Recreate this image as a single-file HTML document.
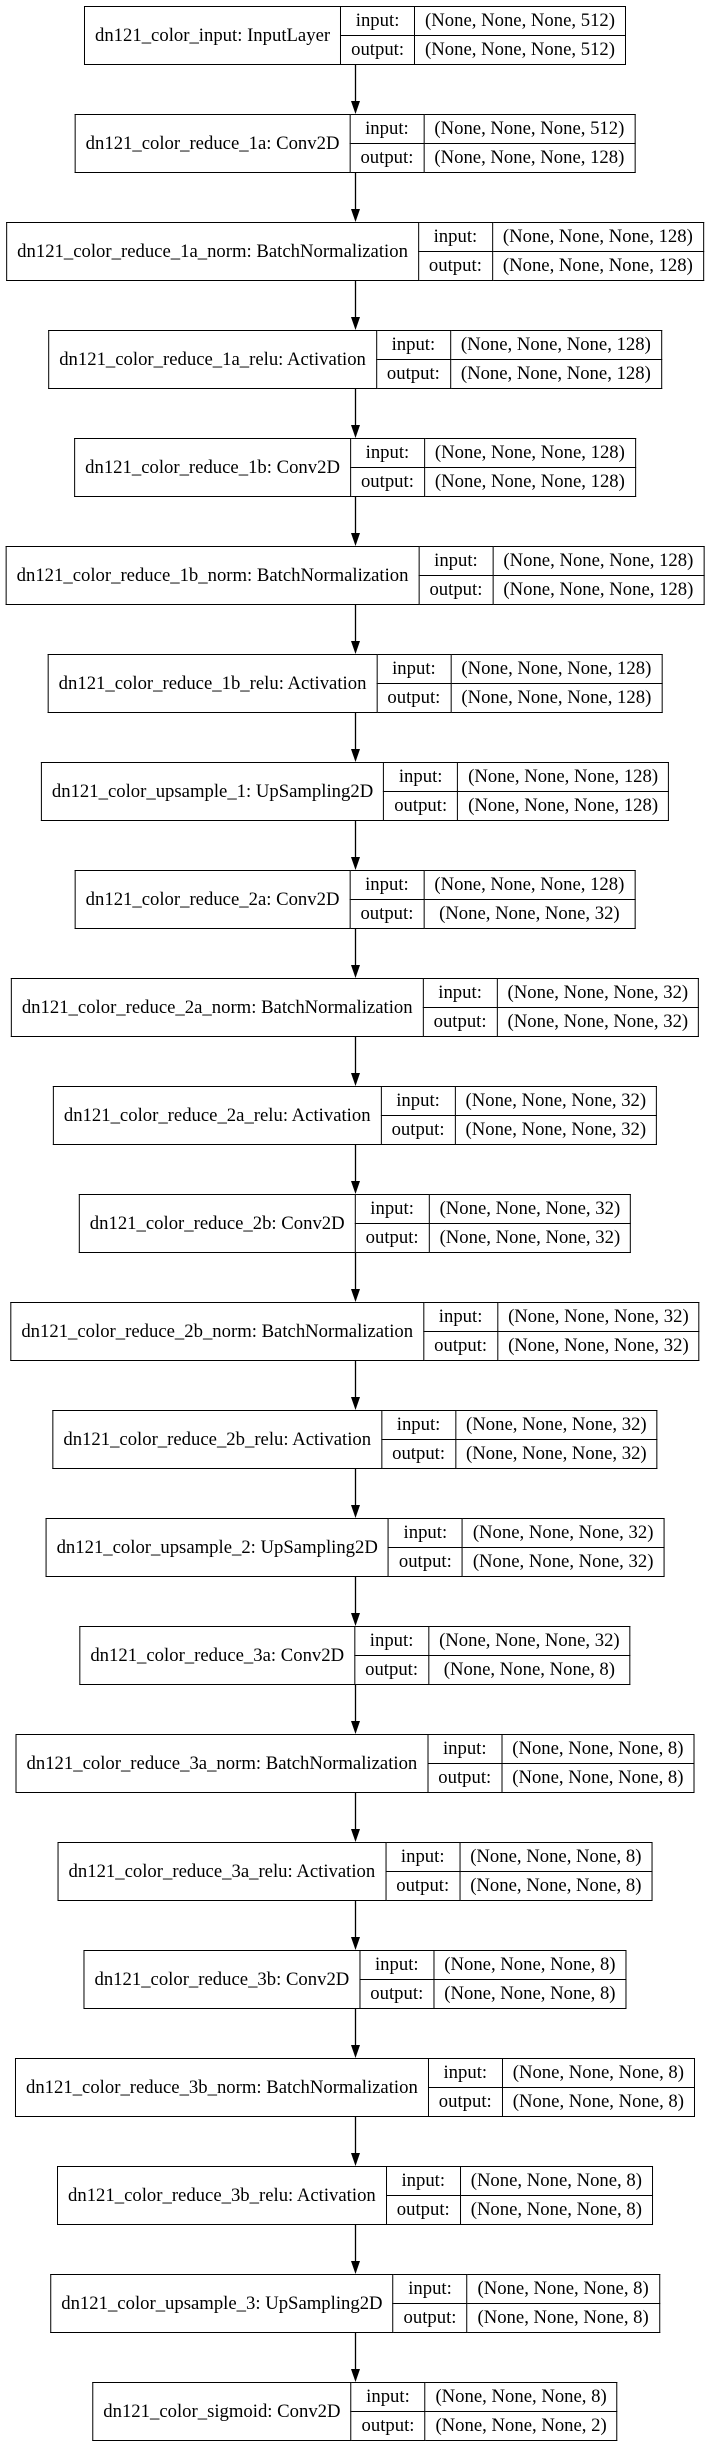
<!DOCTYPE html>
<html><head><meta charset="utf-8"><style>
html,body{margin:0;padding:0;background:#fff;}
body{width:709px;height:2447px;position:relative;overflow:hidden;font-family:"Liberation Serif","DejaVu Serif",serif;font-size:18.7px;color:#000;}
table{position:absolute;left:355px;transform:translateX(-50%);border-collapse:collapse;border:1.3px solid #000;height:59px;white-space:nowrap;}
td{border:1.3px solid #000;padding:0 10px;height:28px;line-height:20px;text-align:center;}
td.l{padding:0 10px;}
svg{position:absolute;left:0;top:0;}
</style></head><body>
<svg width="709" height="2447" id="s"></svg>
<div id="c"></div>
<script>
var n=[
["dn121_color_input: InputLayer","(None, None, None, 512)","(None, None, None, 512)"],
["dn121_color_reduce_1a: Conv2D","(None, None, None, 512)","(None, None, None, 128)"],
["dn121_color_reduce_1a_norm: BatchNormalization","(None, None, None, 128)","(None, None, None, 128)"],
["dn121_color_reduce_1a_relu: Activation","(None, None, None, 128)","(None, None, None, 128)"],
["dn121_color_reduce_1b: Conv2D","(None, None, None, 128)","(None, None, None, 128)"],
["dn121_color_reduce_1b_norm: BatchNormalization","(None, None, None, 128)","(None, None, None, 128)"],
["dn121_color_reduce_1b_relu: Activation","(None, None, None, 128)","(None, None, None, 128)"],
["dn121_color_upsample_1: UpSampling2D","(None, None, None, 128)","(None, None, None, 128)"],
["dn121_color_reduce_2a: Conv2D","(None, None, None, 128)","(None, None, None, 32)"],
["dn121_color_reduce_2a_norm: BatchNormalization","(None, None, None, 32)","(None, None, None, 32)"],
["dn121_color_reduce_2a_relu: Activation","(None, None, None, 32)","(None, None, None, 32)"],
["dn121_color_reduce_2b: Conv2D","(None, None, None, 32)","(None, None, None, 32)"],
["dn121_color_reduce_2b_norm: BatchNormalization","(None, None, None, 32)","(None, None, None, 32)"],
["dn121_color_reduce_2b_relu: Activation","(None, None, None, 32)","(None, None, None, 32)"],
["dn121_color_upsample_2: UpSampling2D","(None, None, None, 32)","(None, None, None, 32)"],
["dn121_color_reduce_3a: Conv2D","(None, None, None, 32)","(None, None, None, 8)"],
["dn121_color_reduce_3a_norm: BatchNormalization","(None, None, None, 8)","(None, None, None, 8)"],
["dn121_color_reduce_3a_relu: Activation","(None, None, None, 8)","(None, None, None, 8)"],
["dn121_color_reduce_3b: Conv2D","(None, None, None, 8)","(None, None, None, 8)"],
["dn121_color_reduce_3b_norm: BatchNormalization","(None, None, None, 8)","(None, None, None, 8)"],
["dn121_color_reduce_3b_relu: Activation","(None, None, None, 8)","(None, None, None, 8)"],
["dn121_color_upsample_3: UpSampling2D","(None, None, None, 8)","(None, None, None, 8)"],
["dn121_color_sigmoid: Conv2D","(None, None, None, 8)","(None, None, None, 2)"]];
var h="",s="";
for(var i=0;i<n.length;i++){var t=6+108*i;
h+='<table style="top:'+t+'px"><tr><td class="l" rowspan="2">'+n[i][0]+'</td><td>input:</td><td>'+n[i][1]+'</td></tr><tr><td>output:</td><td>'+n[i][2]+'</td></tr></table>';
if(i<n.length-1){var y1=t+59,y2=t+108;
s+='<line x1="355.5" y1="'+y1+'" x2="355.5" y2="'+(y2-13)+'" stroke="#000" stroke-width="1.3"/><polygon points="351,'+(y2-13)+' 360,'+(y2-13)+' 355.5,'+y2+'" fill="#000"/>';}}
document.getElementById('c').innerHTML=h;document.getElementById('s').innerHTML=s;
</script>
</body></html>
